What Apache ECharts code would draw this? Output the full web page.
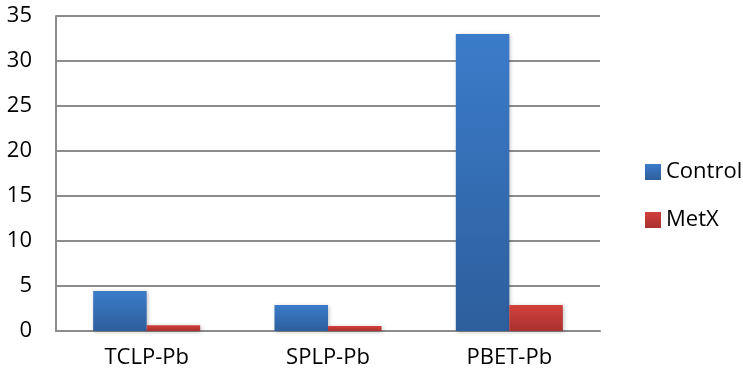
<!DOCTYPE html>
<html>
<head>
<meta charset="utf-8">
<script src="https://cdn.jsdelivr.net/npm/echarts@6/dist/echarts.min.js"></script>
<style>
    html, body { margin: 0; padding: 0; background: #fff; }
    #chart { width: 743px; height: 381px; }
</style>
</head>
<body>
<div id="chart"></div>
<script>
    // 数据
    const categories = ['TCLP-Pb', 'SPLP-Pb', 'PBET-Pb']
    const controlValues = [4.45, 2.9, 33.0]
    const metxValues = [0.65, 0.55, 2.9]
    const yTicks = { min: 0, max: 35, interval: 5 }

    const fontFamily = '"Open Sans", "Noto Sans", sans-serif'

    function grad(top, bottom) {
        return new echarts.graphic.LinearGradient(0, 0, 0, 1, [
            { offset: 0, color: top },
            { offset: 1, color: bottom }
        ])
    }

    const chart = echarts.init(document.getElementById('chart'))
    chart.setOption({
        animation: false,
        grid: { left: 56, right: 143, top: 16, bottom: 50 },
        legend: {
            orient: 'vertical',
            left: 640,
            top: 156,
            itemWidth: 16,
            itemHeight: 16,
            itemGap: 26,
            icon: 'rect',
            textStyle: { fontSize: 22, color: '#000', fontFamily: fontFamily },
            data: ['Control', 'MetX']
        },
        xAxis: {
            type: 'category',
            data: categories,
            axisTick: { show: false },
            axisLine: { lineStyle: { color: '#8c8c8c', width: 2 } },
            axisLabel: { fontSize: 22, color: '#000', fontFamily: fontFamily, margin: 16 }
        },
        yAxis: {
            type: 'value',
            min: yTicks.min,
            max: yTicks.max,
            interval: yTicks.interval,
            axisLine: { show: true, lineStyle: { color: '#8c8c8c', width: 2 } },
            axisTick: { show: false },
            splitLine: { lineStyle: { color: '#8c8c8c', width: 2 } },
            axisLabel: { fontSize: 22, color: '#000', fontFamily: fontFamily, margin: 24 }
        },
        series: [
            {
                name: 'Control',
                type: 'bar',
                data: controlValues,
                barGap: '0%',
                barCategoryGap: '41%',
                itemStyle: {
                    color: grad('#3b7cca', '#2d5e9c'),
                    shadowColor: 'rgba(0,0,0,0.25)',
                    shadowBlur: 4,
                    shadowOffsetX: 1,
                    shadowOffsetY: 1
                }
            },
            {
                name: 'MetX',
                type: 'bar',
                data: metxValues,
                itemStyle: {
                    color: grad('#d2403c', '#a8302e'),
                    shadowColor: 'rgba(0,0,0,0.25)',
                    shadowBlur: 4,
                    shadowOffsetX: 1,
                    shadowOffsetY: 1
                }
            }
        ]
    })
    window.addEventListener('resize', () => chart.resize())
</script>
</body>
</html>
